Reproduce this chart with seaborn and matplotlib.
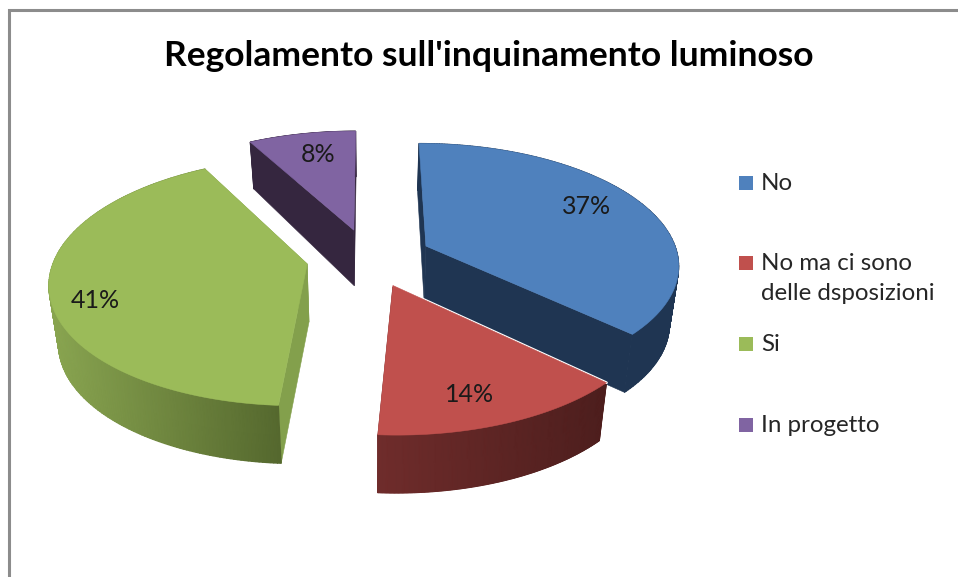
import numpy as np
import matplotlib
matplotlib.use("Agg")
import matplotlib.pyplot as plt
from matplotlib.colors import LinearSegmentedColormap
import seaborn as sns

TITLE = "Regolamento sull'inquinamento luminoso"
categories = ["No", "No ma ci sono\ndelle dsposizioni", "Si", "In progetto"]
values = [37, 14, 41, 8]
top_colors = ["#4f81bd", "#c0504d", "#9bbb59", "#8064a2"]
rim_left = ["#1f3552", "#6f2c2b", "#8aa651", "#35263f"]
rim_right = ["#1f3552", "#4d1e1d", "#55682e", "#35263f"]
cut_colors = ["#1f3552", "#6b2a2a", "#83a04c", "#35263f"]
label_xy = [(587, 206), (470, 394), (95, 300), (318, 155)]
legend_y = [183, 263, 344, 425]
draw_order = [3, 2, 0, 1]

sns.set_theme(style="white")
plt.rcParams["font.family"] = ["Lato", "DejaVu Sans"]
palette = sns.color_palette(top_colors)

CX, CY, RX, RY, K, EXPLODE_X, EXPLODE_Y, DEPTH = 369, 257.5, 252.5, 120, 0.14, 0.249, 0.243, 58
BOTTOM_X = 0.97


def project(X, Y, lower=False):
    s = 1 / (1 + K * Y)
    sx = RX * X * s
    sy = CY - RY * Y * s
    if lower:
        return CX + sx * BOTTOM_X, sy + DEPTH - 10 * np.maximum(Y, 0)
    return CX + sx, sy


fig = plt.figure(figsize=(9.58, 5.77), dpi=100, facecolor="white")
ax = fig.add_axes([0, 0, 1, 1])
ax.set_xlim(0, 958)
ax.set_ylim(577, 0)
ax.axis("off")

# chart frame (only the top and left sides are inside the crop)
ax.plot([9.5, 9.5, 960], [580, 9.5, 9.5], color="#8c8c8c", lw=2.2, solid_joinstyle="miter")

edges = np.cumsum([0] + values) / sum(values) * 2 * np.pi
for i in draw_order:
    layer = draw_order.index(i) * 4
    a0, a1 = edges[i], edges[i + 1]
    mid = (a0 + a1) / 2
    ox, oy = EXPLODE_X * np.sin(mid), EXPLODE_Y * np.cos(mid)
    t = np.linspace(a0, a1, 200)
    X, Y = ox + np.sin(t), oy + np.cos(t)
    ux, uy = project(X, Y)
    lx, ly = project(X, Y, lower=True)
    apx, apy = project(ox, oy)
    alx, aly = project(ox, oy, lower=True)
    # radial cut faces
    for ang in (0, -1):
        ax.fill([apx, ux[ang], lx[ang], alx], [apy, uy[ang], ly[ang], aly],
                color=cut_colors[i], lw=0.4, zorder=1 + layer)
    # outer rim with a horizontal gradient
    cmap = LinearSegmentedColormap.from_list(f"rim{i}", [rim_left[i], rim_right[i]])
    gx = np.vstack([ux, lx])
    gy = np.vstack([uy, ly])
    ax.pcolormesh(gx, gy, gx, cmap=cmap, shading="gouraud", zorder=2 + layer)
    # white seam where the red slice overlaps the blue wall
    if i == 1:
        ax.plot([apx, ux[0]], [apy, uy[0]], color="white", lw=2, zorder=2.5 + layer)
    # top face
    ax.fill(np.r_[apx, ux], np.r_[apy, uy], color=palette[i], lw=0.4, zorder=3 + layer)
    ax.text(*label_xy[i], f"{values[i]}%", fontsize=18, color="#1a1a1a", ha="center",
            va="center", zorder=40)

ax.text(489, 56, TITLE, fontsize=25.5, fontweight="bold", color="black", ha="center", va="center")

for name, y, col in zip(categories, legend_y, palette):
    ax.scatter([746.5], [y], marker="s", s=105, color=col, linewidths=0)
    ax.text(761, y - 10, name, fontsize=17.4, color="#262626", ha="left", va="top", linespacing=1.52)

fig.savefig("out.png", dpi=100)
